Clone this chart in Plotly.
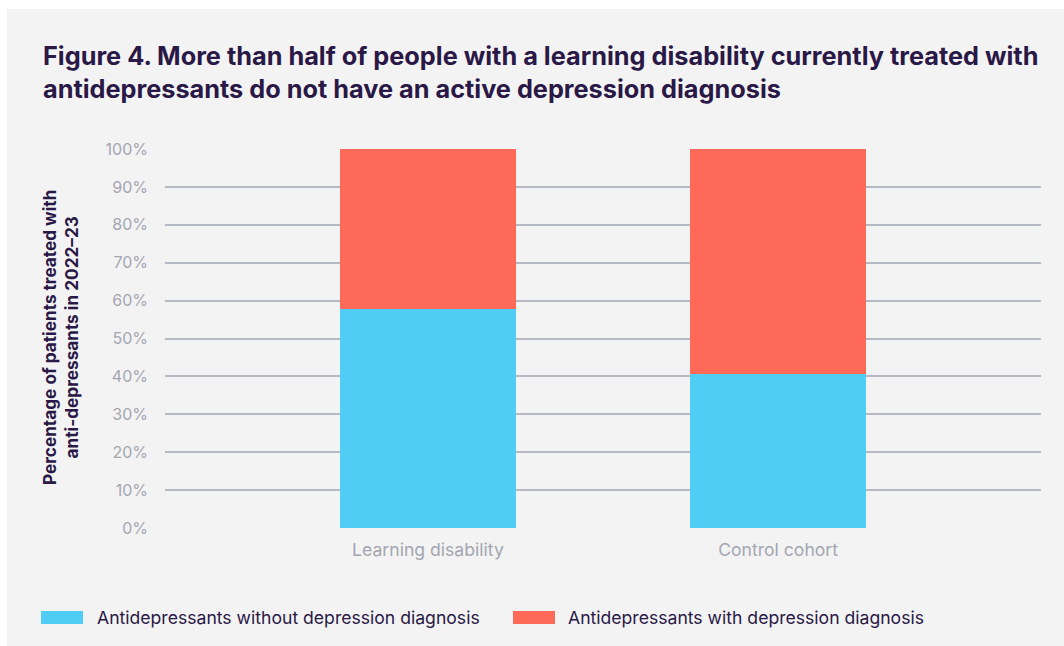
import plotly.graph_objects as go

categories = ["Learning disability", "Control cohort"]
series_names = ["Antidepressants without depression diagnosis",
                "Antidepressants with depression diagnosis"]
without_diag = [57.8, 40.6]
with_diag = [42.2, 59.4]
y_ticks = [0, 10, 20, 30, 40, 50, 60, 70, 80, 90, 100]
y_tick_labels = [f"{v}%" for v in y_ticks]

colors = ["#4fcdf4", "#ff6a58"]
W, H = 1064, 646
L, R, T, B = 165, 1041, 149, 528
FONT = "Inter"
DARK = "#2a1846"
GRAY = "#a3a6b1"

def px_x(px):
    return (px - L) / (R - L)

def px_y(py):
    return (B - py) / (B - T)

fig = go.Figure()
for name, vals, col in zip(series_names, [without_diag, with_diag], colors):
    fig.add_trace(go.Bar(x=categories, y=vals, name=name, marker_color=col,
                         marker_line_width=0, width=0.503, showlegend=False))

shapes = [
    dict(type="rect", xref="paper", yref="paper", x0=px_x(-5), x1=px_x(7),
         y0=px_y(-5), y1=px_y(H + 5), fillcolor="white", line_width=0),
    dict(type="rect", xref="paper", yref="paper", x0=px_x(-5), x1=px_x(W + 5),
         y0=px_y(-5), y1=px_y(9), fillcolor="white", line_width=0),
]
annotations = [
    dict(text="<b>Figure 4. More than half of people with a learning disability currently treated with<br>"
              "antidepressants do not have an active depression diagnosis</b>",
         xref="paper", yref="paper", x=px_x(41), y=px_y(38), xanchor="left", yanchor="top",
         align="left", showarrow=False, font=dict(family=FONT, size=25.3, color=DARK)),
    dict(text="<b>Percentage of patients treated with<br>anti-depressants in 2022–23</b>",
         xref="paper", yref="paper", x=px_x(60), y=px_y(338), xanchor="center", yanchor="middle",
         textangle=-90, showarrow=False, font=dict(family=FONT, size=17.2, color=DARK)),
]
# legend
leg = [(41, 83, 95), (513, 555, 566)]
for (s0, s1, tx), name, col in zip(leg, series_names, colors):
    shapes.append(dict(type="rect", xref="paper", yref="paper", x0=px_x(s0), x1=px_x(s1),
                       y0=px_y(624), y1=px_y(611), fillcolor=col, line_width=0))
    annotations.append(dict(text=name, xref="paper", yref="paper", x=px_x(tx), y=px_y(617.5),
                            xanchor="left", yanchor="middle", showarrow=False,
                            font=dict(family=FONT, size=17.6, color=DARK)))

fig.update_layout(
    width=W, height=H,
    margin=dict(l=L, r=W - R, t=T, b=H - B, pad=0),
    barmode="stack",
    paper_bgcolor="#f3f3f3", plot_bgcolor="#f3f3f3",
    shapes=shapes, annotations=annotations,
    xaxis=dict(range=[-0.751, 1.751], showgrid=False, zeroline=False, showline=False,
               tickfont=dict(family=FONT, size=17.6, color=GRAY), ticks="", ticklabelstandoff=9),
    yaxis=dict(range=[0, 100], tickvals=y_ticks, ticktext=y_tick_labels,
               showgrid=True, gridcolor="#b5b9c3", gridwidth=1.5, zeroline=False, showline=False,
               tickfont=dict(family=FONT, size=16, color=GRAY), ticks="", ticklabelstandoff=16),
    showlegend=False,
)
fig.write_html("out.html")
